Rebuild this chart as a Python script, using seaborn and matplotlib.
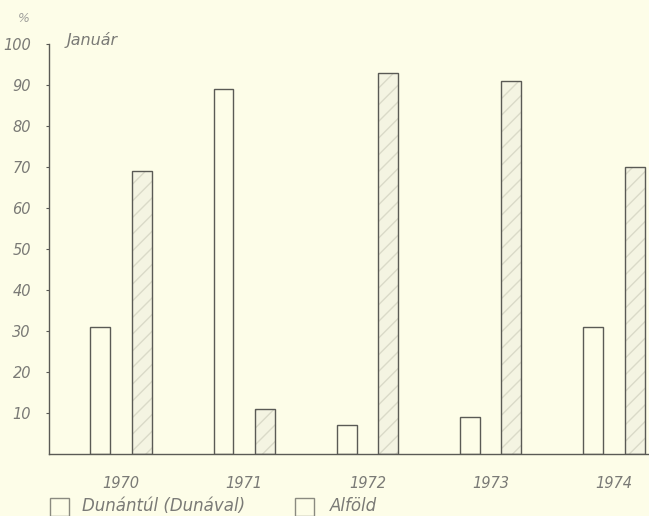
import pandas as pd
import matplotlib.pyplot as plt
import seaborn as sns
from matplotlib.patches import Rectangle

# Values (percent, January)
years = ["1970", "1971", "1972", "1973", "1974"]
dunantul = [31, 89, 7, 9, 31]
alfold = [69, 11, 93, 91, 70]
regions = ["Dunántúl (Dunával)", "Alföld"]
y_ticks = [10, 20, 30, 40, 50, 60, 70, 80, 90, 100]

bg = "#fdfde8"
ink = "#5a5a55"
txt = "#7a7a76"

df = pd.DataFrame({
    "year": years * 2,
    "value": dunantul + alfold,
    "region": [regions[0]] * len(years) + [regions[1]] * len(years),
})

sns.set_style("ticks")
plt.rcParams["font.family"] = ["DejaVu Sans"]

fig = plt.figure(figsize=(6.49, 5.16), dpi=100, facecolor=bg)
ax = fig.add_axes([49 / 649, 62 / 516, 600 / 649, 410 / 516], facecolor=bg)

sns.barplot(data=df, x="year", y="value", hue="region", order=years,
            hue_order=regions, width=0.675, gap=0.52, dodge=True,
            palette=[bg, "#f4f4e2"], saturation=1, edgecolor=ink,
            linewidth=1.0, legend=False, ax=ax)

# hatch the Alföld bars with a faint hatch, keep a dark outline
bars = [p for p in ax.patches if p.get_height() > 0]
for p in bars[len(years):]:
    p.set_hatch("//")
    p.set_edgecolor("#dadac8")
    p.set_linewidth(0.5)
    ax.add_patch(Rectangle(p.get_xy(), p.get_width(), p.get_height(),
                           fill=False, edgecolor=ink, linewidth=1.0))

ax.set_xlim(-0.585, 4.285)
ax.set_ylim(0, 100)
ax.set_yticks(y_ticks)
ax.set_yticklabels([str(t) for t in y_ticks], fontstyle="italic",
                   color=txt, fontsize=10.5)
ax.set_xticks(range(len(years)))
ax.set_xticklabels(years, fontstyle="italic", color=txt, fontsize=10.5)
ax.tick_params(axis="y", length=2, width=0.8, color=ink, pad=11)
ax.tick_params(axis="x", length=0, pad=16)
ax.set_xlabel("")
ax.set_ylabel("")
sns.despine(ax=ax)
for side in ["left", "bottom"]:
    ax.spines[side].set_color(ink)
    ax.spines[side].set_linewidth(1.0)

fig.text(18 / 649, 1 - 19 / 516, "%", color="#a0a09c", fontsize=9,
         style="italic", ha="left", va="center")
fig.text(67 / 649, 1 - 40 / 516, "Január", color=txt, fontsize=11.5,
         style="italic", ha="left", va="center")

# legend drawn at the bottom
for x0 in [50, 295]:
    fig.patches.append(Rectangle((x0 / 649, 0), 19 / 649, 18 / 516,
                                 transform=fig.transFigure, fill=False,
                                 edgecolor="#8a8a80", linewidth=1.0))
fig.text(82 / 649, 10 / 516, regions[0], color=txt, fontsize=12,
         style="italic", ha="left", va="center")
fig.text(330 / 649, 10 / 516, regions[1], color=txt, fontsize=12,
         style="italic", ha="left", va="center")

fig.savefig("out.png", dpi=100, facecolor=bg)
